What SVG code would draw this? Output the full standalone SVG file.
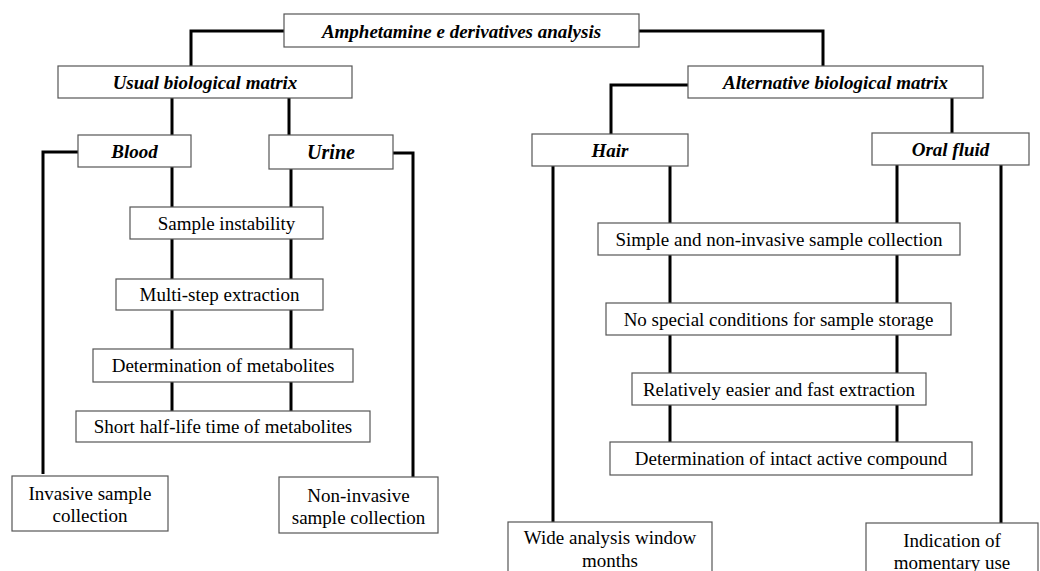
<svg xmlns="http://www.w3.org/2000/svg" width="1040" height="571" viewBox="0 0 1040 571">
  <style>
    .box { fill: #ffffff; stroke: #555555; stroke-width: 1.2; }
    .link { fill: none; stroke: #000000; stroke-width: 3; stroke-linejoin: miter; }
    .head { font-family: "Liberation Serif", "Times New Roman", serif; font-weight: bold; font-style: italic; font-size: 19px; fill: #000; text-anchor: middle; }
    .item { font-family: "Liberation Serif", "Times New Roman", serif; font-size: 19px; fill: #000; text-anchor: middle; }
  </style>
  <rect width="1040" height="571" fill="#ffffff"/>

  <!-- connectors -->
  <g id="connectors">
    <polyline class="link" points="284,31 191,31 191,66"/>
    <polyline class="link" points="639,31 823,31 823,66"/>
    <line class="link" x1="172" y1="98" x2="172" y2="135"/>
    <line class="link" x1="289" y1="98" x2="289" y2="135"/>
    <polyline class="link" points="78,152 43,152 43,474"/>
    <polyline class="link" points="393,153 413,153 413,477"/>
    <line class="link" x1="172" y1="167" x2="172" y2="411"/>
    <line class="link" x1="291" y1="169" x2="291" y2="411"/>
    <polyline class="link" points="688,85 611,85 611,134"/>
    <line class="link" x1="952" y1="98" x2="952" y2="133"/>
    <line class="link" x1="553" y1="166" x2="553" y2="522"/>
    <line class="link" x1="670" y1="166" x2="670" y2="442"/>
    <line class="link" x1="897" y1="165" x2="897" y2="442"/>
    <line class="link" x1="1001" y1="165" x2="1001" y2="523"/>
  </g>

  <g id="root">
    <rect class="box" x="284" y="14" width="355" height="33"/>
    <text class="head" x="461.5" y="37.5">Amphetamine e derivatives analysis</text>
  </g>
  <g id="usual">
    <rect class="box" x="58" y="66" width="294" height="32"/>
    <text class="head" x="205" y="88.5">Usual biological matrix</text>
  </g>
  <g id="alternative">
    <rect class="box" x="688" y="66" width="295" height="32"/>
    <text class="head" x="835.5" y="88.5">Alternative biological matrix</text>
  </g>
  <g id="blood">
    <rect class="box" x="78" y="135" width="113" height="32"/>
    <text class="head" x="134.5" y="158">Blood</text>
  </g>
  <g id="urine">
    <rect class="box" x="269" y="135" width="124" height="34"/>
    <text class="head" x="331" y="159" style="font-size:20px">Urine</text>
  </g>
  <g id="hair">
    <rect class="box" x="532" y="134" width="156" height="32"/>
    <text class="head" x="610" y="156.5">Hair</text>
  </g>
  <g id="oral-fluid">
    <rect class="box" x="872" y="133" width="157" height="32"/>
    <text class="head" x="950.5" y="155.5">Oral fluid</text>
  </g>

  <g id="sample-instability">
    <rect class="box" x="130" y="207" width="193" height="32"/>
    <text class="item" x="226.5" y="229.5">Sample instability</text>
  </g>
  <g id="multi-step">
    <rect class="box" x="116" y="279" width="207" height="31"/>
    <text class="item" x="219.5" y="301">Multi-step extraction</text>
  </g>
  <g id="metabolites">
    <rect class="box" x="93" y="349" width="260" height="33"/>
    <text class="item" x="223" y="372">Determination of metabolites</text>
  </g>
  <g id="half-life">
    <rect class="box" x="76" y="411" width="294" height="31"/>
    <text class="item" x="223" y="433">Short half-life time of metabolites</text>
  </g>
  <g id="invasive">
    <rect class="box" x="12" y="476" width="156" height="55"/>
    <text class="item" x="90" y="499.5">Invasive sample</text>
    <text class="item" x="90" y="521.5">collection</text>
  </g>
  <g id="non-invasive">
    <rect class="box" x="279" y="477" width="159" height="56"/>
    <text class="item" x="358.5" y="501.5">Non-invasive</text>
    <text class="item" x="358.5" y="523.5">sample collection</text>
  </g>

  <g id="simple-collection">
    <rect class="box" x="598" y="223" width="362" height="32"/>
    <text class="item" x="779" y="245.5">Simple and non-invasive sample collection</text>
  </g>
  <g id="storage">
    <rect class="box" x="606" y="303" width="345" height="32"/>
    <text class="item" x="778.5" y="325.5">No special conditions for sample storage</text>
  </g>
  <g id="fast-extraction">
    <rect class="box" x="632" y="373" width="294" height="32"/>
    <text class="item" x="779" y="395.5">Relatively easier and fast extraction</text>
  </g>
  <g id="intact-compound">
    <rect class="box" x="610" y="442" width="362" height="33"/>
    <text class="item" x="791" y="465">Determination of intact active compound</text>
  </g>
  <g id="wide-window">
    <rect class="box" x="508" y="522" width="204" height="60"/>
    <text class="item" x="610" y="543.5">Wide analysis window</text>
    <text class="item" x="610" y="566.5">months</text>
  </g>
  <g id="momentary-use">
    <rect class="box" x="866" y="523" width="172" height="60"/>
    <text class="item" x="952" y="546.5">Indication of</text>
    <text class="item" x="952" y="568.5">momentary use</text>
  </g>
</svg>
